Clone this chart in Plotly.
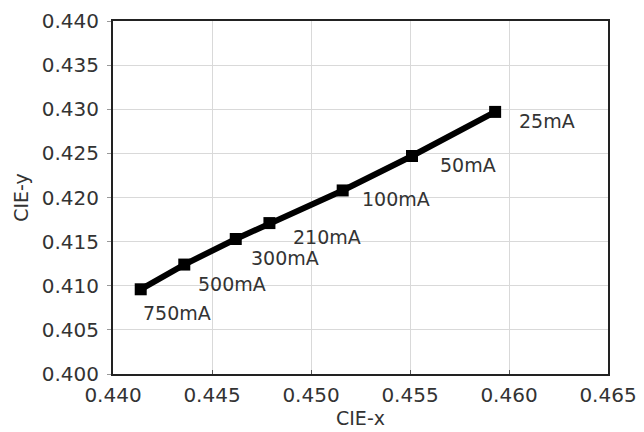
import plotly.graph_objects as go

cie_x = [0.4593, 0.4551, 0.4516, 0.4479, 0.4462, 0.4436, 0.4414]
cie_y = [0.4297, 0.4247, 0.4208, 0.4171, 0.4153, 0.4124, 0.4096]
currents = ["25mA", "50mA", "100mA", "210mA", "300mA", "500mA", "750mA"]
label_dx = [22, 26, 17, 22, 13, 12, 0]
label_dy = [-9, -9, -9, -14, -19, -19, -24]

x_ticks = [0.440, 0.445, 0.450, 0.455, 0.460, 0.465]
y_ticks = [0.400, 0.405, 0.410, 0.415, 0.420, 0.425, 0.430, 0.435, 0.440]

FONT = "DejaVu Sans"
TXT = "#333333"

fig = go.Figure()
fig.add_trace(go.Scatter(
    x=cie_x, y=cie_y, mode="lines+markers",
    line=dict(color="black", width=6),
    marker=dict(symbol="square", size=12, color="black"),
    showlegend=False, hoverinfo="skip",
))

for xv, yv, t, dx, dy in zip(cie_x, cie_y, currents, label_dx, label_dy):
    fig.add_annotation(x=xv, y=yv, text=t, showarrow=False,
                       xanchor="left", yanchor="middle",
                       xshift=dx, yshift=dy,
                       font=dict(family=FONT, size=19, color=TXT))

axis_common = dict(
    showgrid=True, gridcolor="#d9d9d9", gridwidth=1,
    showline=True, linecolor="#222222", linewidth=2, mirror=True,
    zeroline=False, automargin=False,
    tickfont=dict(family=FONT, size=20, color=TXT),
    tickformat=".3f",
)

fig.update_xaxes(range=[0.440, 0.465], tickvals=x_ticks,
                 ticks="inside", ticklen=4, tickcolor="#555555",
                 ticklabelstandoff=2,
                 title=dict(text="CIE-x", font=dict(family=FONT, size=19, color=TXT), standoff=6),
                 **axis_common)
fig.update_yaxes(range=[0.400, 0.440], tickvals=y_ticks,
                 ticks="outside", ticklen=4, tickcolor="#999999",
                 ticklabelstandoff=4,
                 title=dict(text="CIE-y", font=dict(family=FONT, size=19, color=TXT), standoff=8),
                 **axis_common)

fig.update_layout(
    width=644, height=432,
    margin=dict(l=113, r=36, t=21, b=58),
    plot_bgcolor="white", paper_bgcolor="white",
)

fig.write_html("out.html")
